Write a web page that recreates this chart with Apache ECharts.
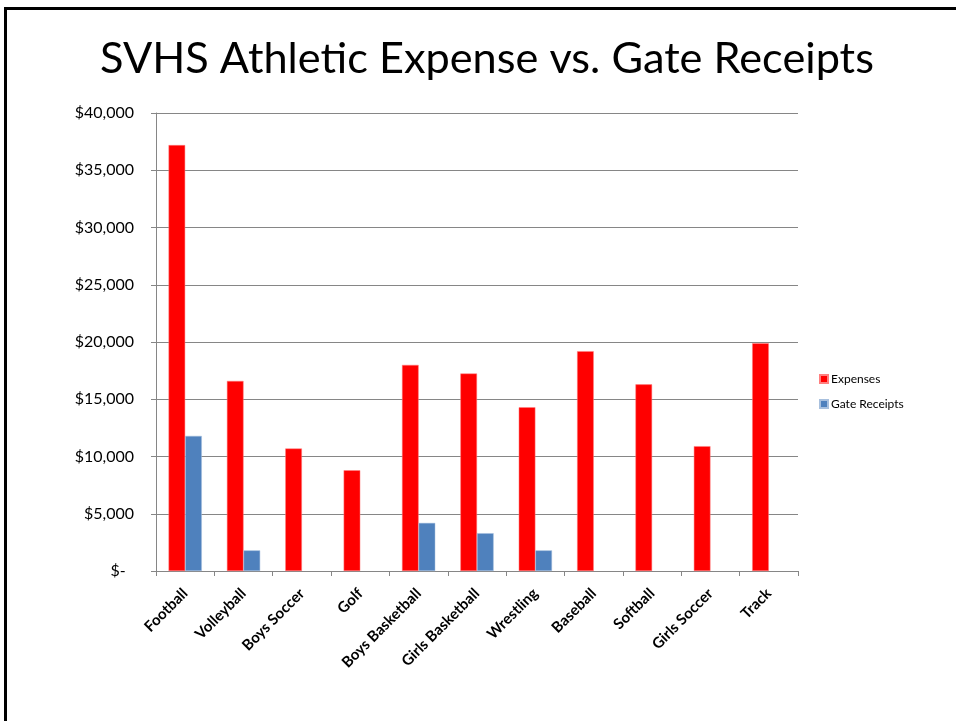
<!DOCTYPE html>
<html>
<head>
<meta charset="utf-8">
<script src="https://cdn.jsdelivr.net/npm/echarts@6/dist/echarts.min.js"></script>
<style>
  html, body { margin: 0; padding: 0; background: #fff; }
  #slide { position: absolute; left: 4px; top: 7px; right: 0; bottom: 0; border-top: 3px solid #000; border-left: 3px solid #000; }
  #chart { position: absolute; left: 0; top: 0; width: 956px; height: 721px; }
</style>
</head>
<body>
<div id="slide"></div>
<div id="chart"></div>
<script>
// sports on the x axis
const sports = ['Football', 'Volleyball', 'Boys Soccer', 'Golf', 'Boys Basketball', 'Girls Basketball',
  'Wrestling', 'Baseball', 'Softball', 'Girls Soccer', 'Track']
// dollars
const expenses = [37200, 16600, 10700, 8800, 18000, 17250, 14300, 19200, 16300, 10900, 19900]
const gateReceipts = [11800, 1800, null, null, 4200, 3300, 1800, null, null, null, null]
const yTicks = [0, 5000, 10000, 15000, 20000, 25000, 30000, 35000, 40000]

const font = 'Lato, "Open Sans", sans-serif'
const gridColor = '#868686'

const myChart = echarts.init(document.getElementById('chart'))
const option = {
  animation: false,
  title: {
    text: 'SVHS Athletic Expense vs. Gate Receipts',
    left: 95,
    top: 33,
    textStyle: { fontFamily: font, fontSize: 43.3, fontWeight: 'normal', color: '#000' }
  },
  legend: {
    orient: 'vertical',
    left: 814,
    top: 367,
    icon: 'rect',
    itemWidth: 8,
    itemHeight: 8,
    itemGap: 11,
    textStyle: { fontFamily: font, fontSize: 12, color: '#000', lineHeight: 14, padding: [0, 0, 0, -2] },
    data: ['Expenses', 'Gate Receipts']
  },
  grid: { left: 156, right: 158, top: 113, bottom: 150, containLabel: false },
  xAxis: {
    type: 'category',
    data: sports,
    axisLine: { lineStyle: { color: gridColor } },
    axisTick: { show: true, length: 5, alignWithLabel: false, lineStyle: { color: gridColor } },
    axisLabel: {
      interval: 0,
      rotate: 45,
      margin: 20,
      fontFamily: font,
      fontSize: 15,
      fontWeight: 'bold',
      color: '#000'
    }
  },
  yAxis: {
    type: 'value',
    min: yTicks[0],
    max: yTicks[yTicks.length - 1],
    interval: 5000,
    axisLine: { show: true, lineStyle: { color: gridColor } },
    axisTick: { show: true, length: 5, lineStyle: { color: gridColor } },
    splitLine: { lineStyle: { color: gridColor } },
    axisLabel: {
      margin: 22,
      fontFamily: font,
      fontSize: 16,
      color: '#000',
      formatter: v => v === 0 ? '$-  ' : '$' + v.toLocaleString('en-US')
    }
  },
  series: [
    {
      name: 'Expenses',
      type: 'bar',
      data: expenses,
      barGap: '0%',
      barCategoryGap: '43%',
      itemStyle: { color: '#ff0000', borderColor: '#ff8080', borderWidth: 0.5 }
    },
    {
      name: 'Gate Receipts',
      type: 'bar',
      data: gateReceipts,
      itemStyle: { color: '#4f81bd', borderColor: '#a8c0de', borderWidth: 0.5 }
    }
  ]
}
myChart.setOption(option)
</script>
</body>
</html>
